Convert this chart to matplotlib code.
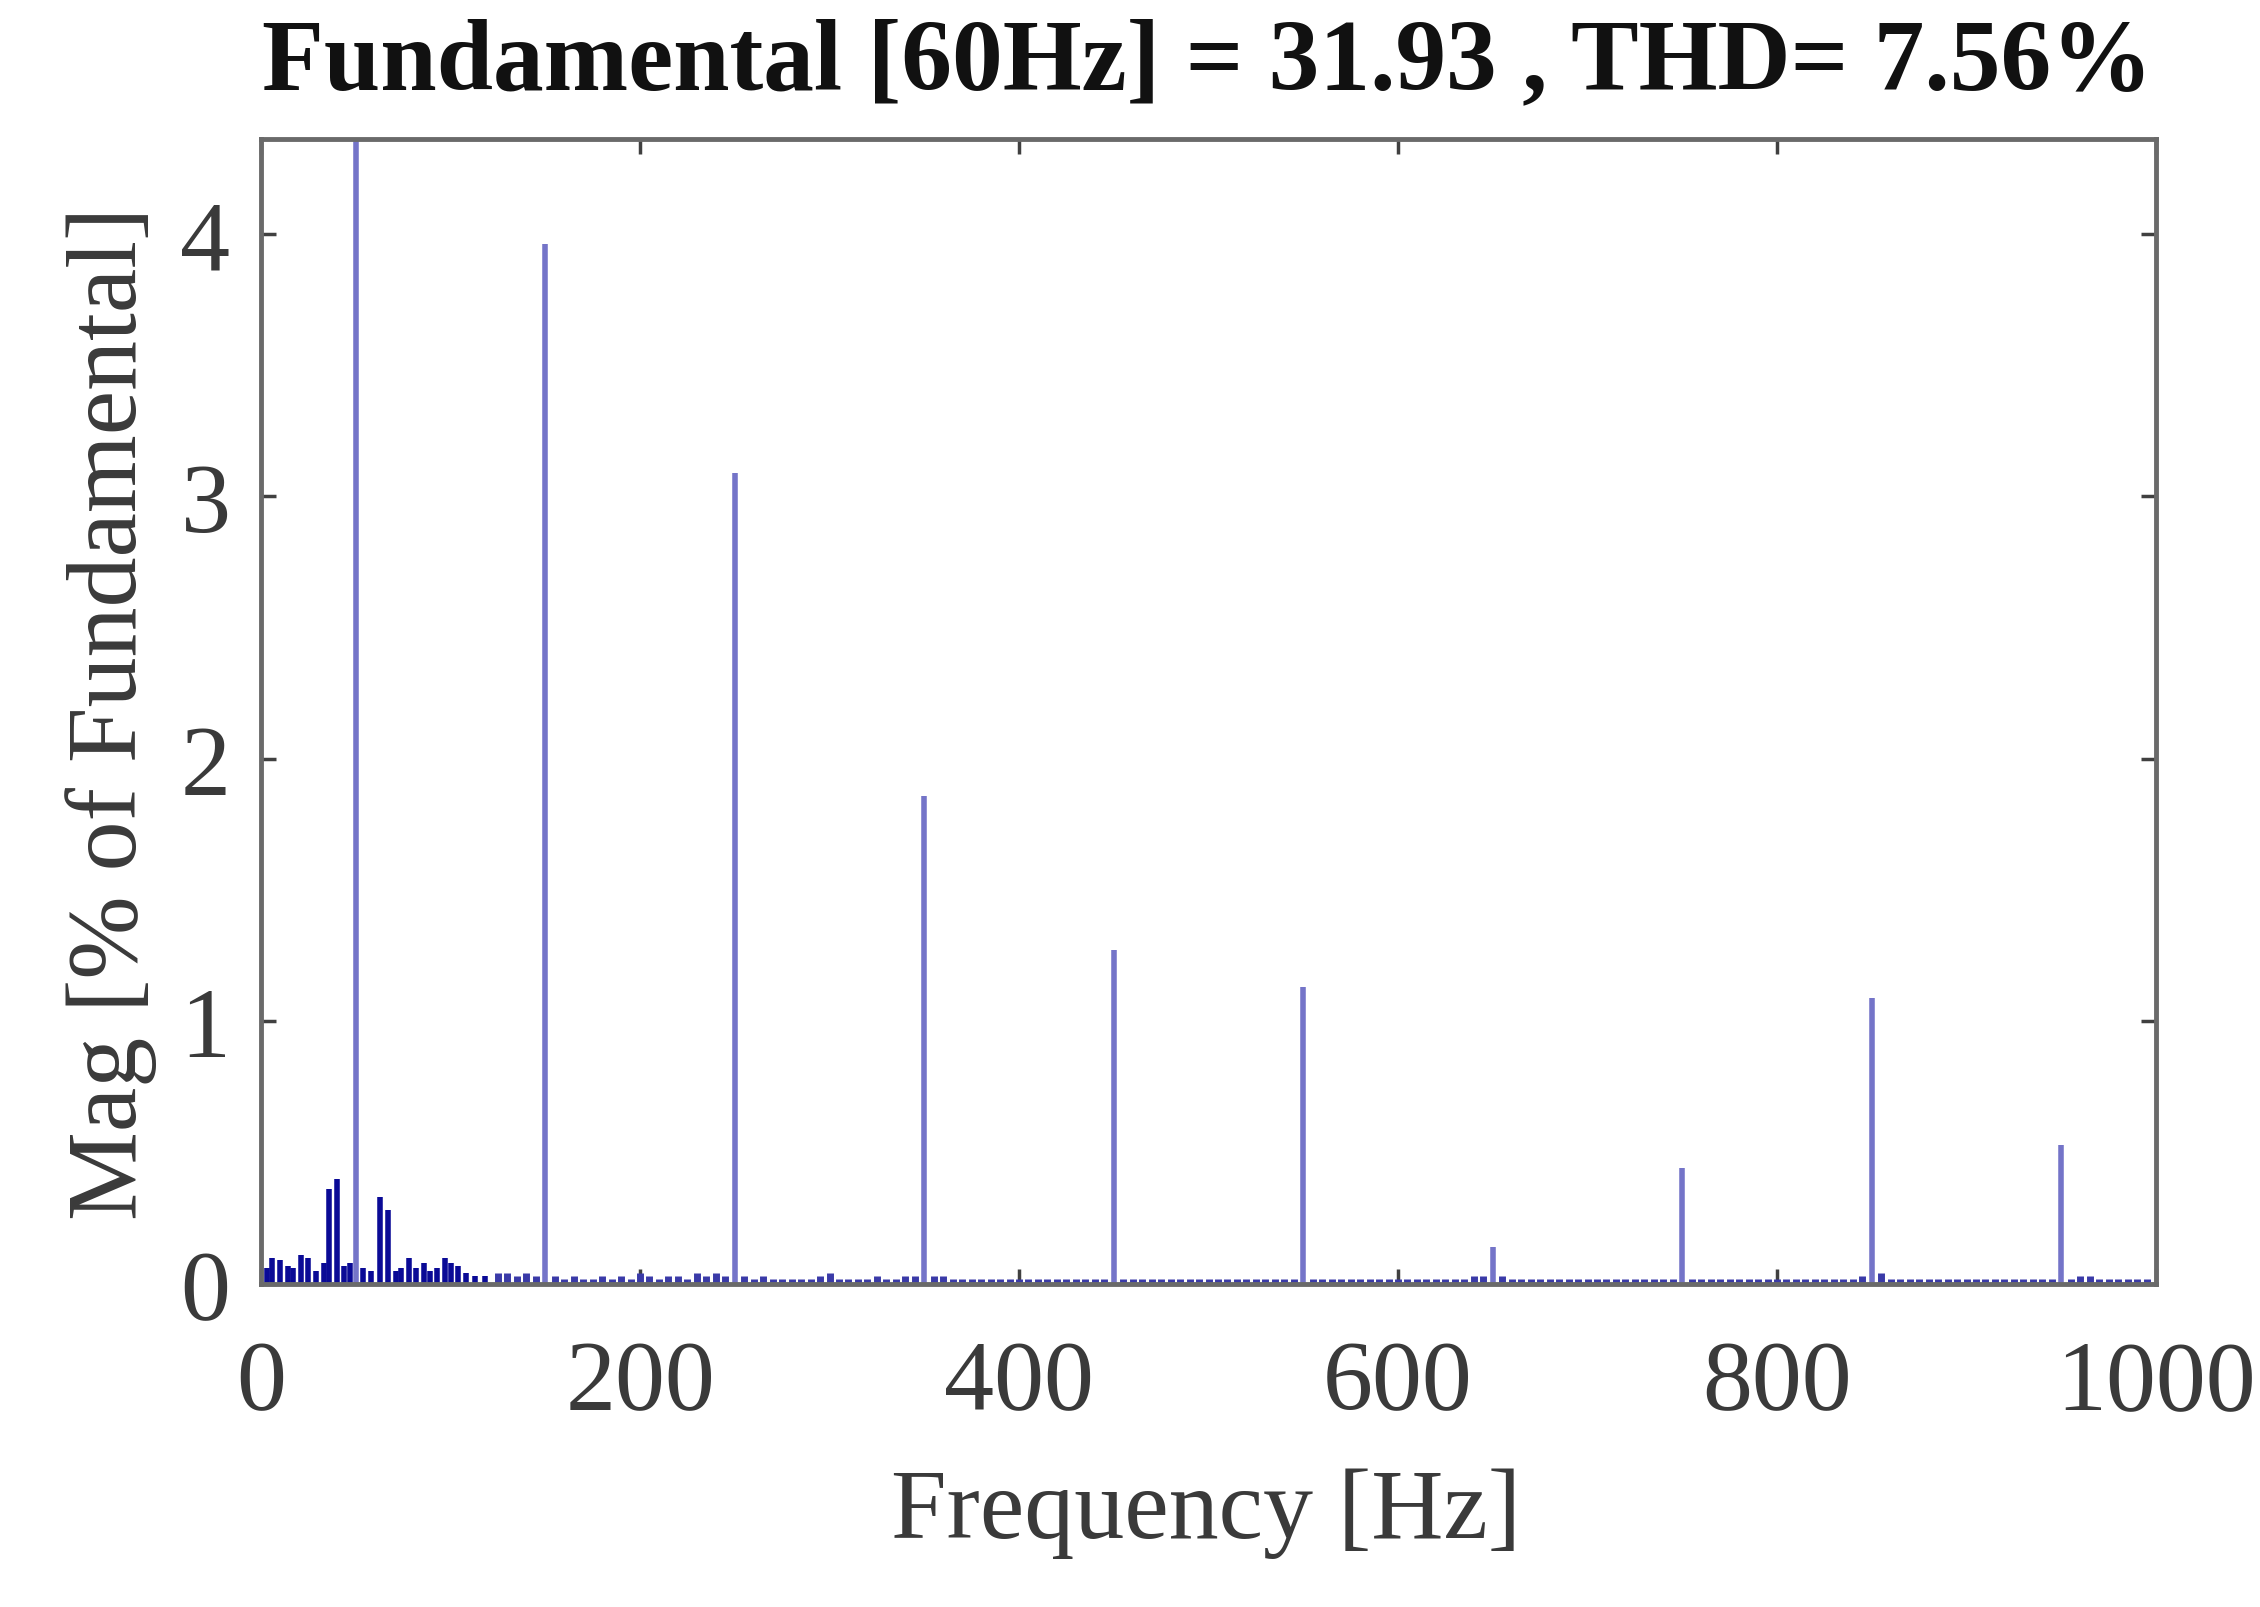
import matplotlib
matplotlib.use("Agg")
import matplotlib.pyplot as plt

# ---- data ----
harm_freq = [50, 150, 250, 350, 450, 550, 650, 750, 850, 950]
harm_mag = [100.0, 3.96, 3.09, 1.86, 1.27, 1.13, 0.14, 0.44, 1.09, 0.53]

low_freq = [3, 6, 10, 14, 17, 21, 25, 29, 33, 36, 40, 44, 47, 54, 58, 63, 67,
            71, 74, 78, 82, 86, 89, 93, 97, 100, 104, 108, 113, 118]
low_mag = [0.06, 0.10, 0.09, 0.07, 0.06, 0.11, 0.10, 0.05, 0.08, 0.36, 0.40,
           0.07, 0.08, 0.06, 0.05, 0.33, 0.28, 0.05, 0.06, 0.10, 0.06, 0.08,
           0.05, 0.06, 0.10, 0.08, 0.07, 0.04, 0.03, 0.03]

noise_freq = [125, 130, 135, 140, 145, 155, 160, 165, 170, 175, 180, 185, 190,
              195, 200, 205, 210, 215, 220, 225, 230, 235, 240, 245, 255, 260,
              265, 270, 275, 280, 285, 290, 295, 300, 305, 310, 315, 320, 325,
              330, 335, 340, 345, 355, 360, 365, 370, 375, 380, 385, 390, 395,
              400, 405, 410, 415, 420, 425, 430, 435, 440, 445, 455, 460, 465,
              470, 475, 480, 485, 490, 495, 500, 505, 510, 515, 520, 525, 530,
              535, 540, 545, 555, 560, 565, 570, 575, 580, 585, 590, 595, 600,
              605, 610, 615, 620, 625, 630, 635, 640, 645, 655, 660, 665, 670,
              675, 680, 685, 690, 695, 700, 705, 710, 715, 720, 725, 730, 735,
              740, 745, 755, 760, 765, 770, 775, 780, 785, 790, 795, 800, 805,
              810, 815, 820, 825, 830, 835, 840, 845, 855, 860, 865, 870, 875,
              880, 885, 890, 895, 900, 905, 910, 915, 920, 925, 930, 935, 940,
              945, 955, 960, 965, 970, 975, 980, 985, 990, 995]
noise_mag = [0.04, 0.04, 0.03, 0.04, 0.03, 0.03, 0.02, 0.03, 0.02, 0.02, 0.03,
             0.02, 0.03, 0.02, 0.04, 0.03, 0.02, 0.03, 0.03, 0.02, 0.04, 0.03,
             0.04, 0.03, 0.03, 0.02, 0.03, 0.02, 0.02, 0.02, 0.02, 0.02, 0.03,
             0.04, 0.02, 0.02, 0.02, 0.02, 0.03, 0.02, 0.02, 0.03, 0.03, 0.03,
             0.03, 0.02, 0.02, 0.02, 0.02, 0.02, 0.02, 0.02, 0.02, 0.02, 0.02,
             0.02, 0.02, 0.02, 0.02, 0.02, 0.02, 0.02, 0.02, 0.02, 0.02, 0.02,
             0.02, 0.02, 0.02, 0.02, 0.02, 0.02, 0.02, 0.02, 0.02, 0.02, 0.02,
             0.02, 0.02, 0.02, 0.02, 0.02, 0.02, 0.02, 0.02, 0.02, 0.02, 0.02,
             0.02, 0.02, 0.02, 0.02, 0.02, 0.02, 0.02, 0.02, 0.02, 0.02, 0.03,
             0.03, 0.03, 0.02, 0.02, 0.02, 0.02, 0.02, 0.02, 0.02, 0.02, 0.02,
             0.02, 0.02, 0.02, 0.02, 0.02, 0.02, 0.02, 0.02, 0.02, 0.02, 0.02,
             0.02, 0.02, 0.02, 0.02, 0.02, 0.02, 0.02, 0.02, 0.02, 0.02, 0.02,
             0.02, 0.02, 0.02, 0.02, 0.02, 0.03, 0.04, 0.02, 0.02, 0.02, 0.02,
             0.02, 0.02, 0.02, 0.02, 0.02, 0.02, 0.02, 0.02, 0.02, 0.02, 0.02,
             0.02, 0.02, 0.02, 0.02, 0.03, 0.03, 0.02, 0.02, 0.02, 0.02, 0.02,
             0.02]

x_ticks = [0, 200, 400, 600, 800, 1000]
y_ticks = [0, 1, 2, 3, 4]

title_text = "Fundamental [60Hz] = 31.93 , THD= 7.56%"
x_label = "Frequency [Hz]"
y_label = "Mag [% of Fundamental]"

# ---- figure ----
W, H, DPI = 2260, 1608, 100
fig = plt.figure(figsize=(W / DPI, H / DPI), dpi=DPI)
fig.patch.set_facecolor("white")

ax = fig.add_axes([261 / W, 1 - 1285 / H, (2156 - 261) / W, (1285 - 140) / H])

serif = ["Liberation Serif", "DejaVu Serif"]

ax.vlines(noise_freq, 0, noise_mag, color="#3a3aa8", linewidth=5)
ax.vlines(low_freq, 0, low_mag, color="#0a0a96", linewidth=4)
ax.vlines(harm_freq, 0, harm_mag, color="#7474c8", linewidth=4)

ax.set_xlim(0, 1000)
ax.set_ylim(0, 4.36)
ax.set_xticks(x_ticks)
ax.set_yticks(y_ticks)
ax.set_xticklabels([str(v) for v in x_ticks])
ax.set_yticklabels([str(v) for v in y_ticks])

spine_col = "#6a6a6a"
for s in ax.spines.values():
    s.set_color(spine_col)
    s.set_linewidth(3.5)
    s.set_zorder(3)

ax.tick_params(axis="both", direction="in", length=11, width=2.5,
               color="#404040", top=True, right=True,
               labelcolor="#3a3a3a", labelsize=72)
ax.tick_params(axis="x", pad=40)
ax.tick_params(axis="y", pad=22)
for lab in ax.get_xticklabels() + ax.get_yticklabels():
    lab.set_family(serif)

fig.text(1206 / W, 1 - 1514 / H, x_label, family=serif, fontsize=72,
         color="#3a3a3a", ha="center", va="center")
fig.text(111 / W, 1 - 713 / H, y_label, family=serif, fontsize=72,
         color="#3a3a3a", ha="center", va="center", rotation=90)
fig.text(1207 / W, 1 - 65 / H, title_text, family=serif, fontsize=73,
         fontweight="bold", color="#111111", ha="center", va="center")

fig.savefig("out.png", dpi=DPI, facecolor="white")
